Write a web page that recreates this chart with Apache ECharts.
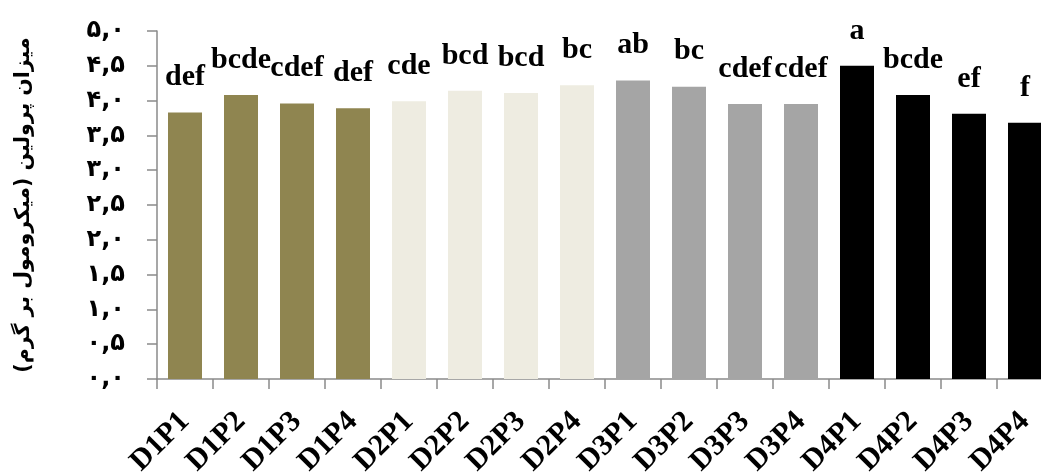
<!DOCTYPE html>
<html>
<head>
<meta charset="utf-8">
<script src="https://cdn.jsdelivr.net/npm/echarts@6/dist/echarts.min.js"></script>
<style>
html,body{margin:0;padding:0;background:#fff;}
#chart{width:1041px;height:475px;}
</style>
</head>
<body>
<div id="chart"></div>
<script>
const categories = ['D1P1','D1P2','D1P3','D1P4','D2P1','D2P2','D2P3','D2P4','D3P1','D3P2','D3P3','D3P4','D4P1','D4P2','D4P3','D4P4'];
const values = [3.83, 4.08, 3.96, 3.89, 3.99, 4.14, 4.11, 4.22, 4.29, 4.20, 3.95, 3.95, 4.50, 4.08, 3.81, 3.68];
const letters = ['def','bcde','cdef','def','cde','bcd','bcd','bc','ab','bc','cdef','cdef','a','bcde','ef','f'];
const groupColors = ['#8F8550','#EEECE1','#A5A5A5','#000000'];
const yTickLabels = {'0':'۰,۰','0.5':'۰,۵','1':'۱,۰','1.5':'۱,۵','2':'۲,۰','2.5':'۲,۵','3':'۳,۰','3.5':'۳,۵','4':'۴,۰','4.5':'۴,۵','5':'۵,۰'};
const yTitle = 'میزان پرولین (میکرومول بر گرم)';

const chart = echarts.init(document.getElementById('chart'));
const data = values.map((v, i) => ({
  value: v,
  itemStyle: { color: groupColors[Math.floor(i / 4)] }
}));

chart.setOption({
  animation: false,
  grid: { left: 157, top: 31, width: 896, height: 348, containLabel: false, outerBoundsMode: 'none' },
  xAxis: {
    type: 'category',
    data: categories,
    boundaryGap: true,
    axisLine: { lineStyle: { color: '#8a8a8a', width: 1.5 } },
    axisTick: { show: true, length: 10, alignWithLabel: false, lineStyle: { color: '#8a8a8a', width: 1.5 } },
    axisLabel: {
      rotate: 45,
      interval: 0,
      margin: 38,
      color: '#000',
      fontFamily: 'Liberation Serif',
      fontWeight: 'bold',
      fontSize: 30
    }
  },
  yAxis: {
    type: 'value',
    min: 0,
    max: 5,
    interval: 0.5,
    name: yTitle,
    nameLocation: 'middle',
    nameRotate: 90,
    nameGap: 123,
    nameTextStyle: { fontFamily: 'DejaVu Sans', fontWeight: 'bold', fontSize: 20.5, color: '#000' },
    splitLine: { show: false },
    axisLine: { show: true, lineStyle: { color: '#8a8a8a', width: 1.5 } },
    axisTick: { show: true, length: 10, lineStyle: { color: '#8a8a8a', width: 1.5 } },
    axisLabel: {
      margin: 32,
      color: '#000',
      fontFamily: 'DejaVu Sans',
      fontWeight: 'bold',
      fontSize: 24,
      formatter: v => yTickLabels[String(v)] || ''
    }
  },
  series: [{
    type: 'bar',
    data: data,
    barWidth: 34,
    label: {
      show: true,
      position: 'top',
      distance: 20,
      color: '#000',
      fontFamily: 'Liberation Serif',
      fontWeight: 'bold',
      fontSize: 30,
      formatter: p => letters[p.dataIndex]
    }
  }]
});
</script>
</body>
</html>
